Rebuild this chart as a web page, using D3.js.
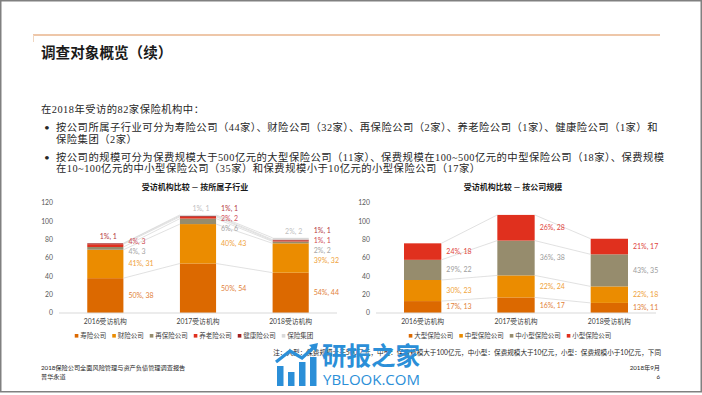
<!DOCTYPE html>
<html>
<head>
<meta charset="utf-8">
<script src="https://cdn.jsdelivr.net/npm/d3@7"></script>
<style>
body { margin: 0; background: #fff; }
svg text { font-family: "Lato", "Noto Sans CJK SC", sans-serif; }
.body-text { font-family: "Liberation Serif", "Noto Sans CJK SC", serif !important; }
</style>
</head>
<body>
<svg id="slide" width="702" height="395"></svg>
<script>
////////////////////////////// Data //////////////////////////////
var years = ["2016受访机构", "2017受访机构", "2018受访机构"];
var totals = [76, 107, 82]; // surveyed institutions per year

var industryNames = ["寿险公司", "财险公司", "再保险公司", "养老险公司", "健康险公司", "保险集团"];
var lifeIns = [38, 54, 44];
var propIns = [31, 43, 32];
var reIns = [3, 6, 2];
var pensionIns = [3, 2, 1];
var healthIns = [1, 1, 1];
var groupIns = [0, 1, 2];

var sizeNames = ["大型保险公司", "中型保险公司", "中小型保险公司", "小型保险公司"];
var largeCo = [13, 17, 11];
var midCo = [23, 24, 18];
var smallMidCo = [22, 38, 35];
var smallCo = [18, 28, 17];

var yTicks = [0, 20, 40, 60, 80, 100, 120];

////////////////////////////// Styles //////////////////////////////
var industryColors = ["#DC6900", "#EB8C00", "#968C6D", "#E0301E", "#A32020", "#D9D9D9"];
var industryLabelColors = ["#E2823A", "#EFA23A", "#A6A6A6", "#CF4B55", "#B5393F", "#BFBFBF"];
var sizeColors = ["#DC6900", "#EB8C00", "#968C6D", "#E0301E"];
var sizeLabelColors = ["#E2823A", "#EFA23A", "#9C9C9C", "#E0453C"];

var svg = d3.select("#slide");

// slide frame
svg.append("rect")
    .attr("x", 0.75).attr("y", 0.75)
    .attr("width", 700.5).attr("height", 391)
    .attr("fill", "none")
    .attr("stroke", "#808080")
    .attr("stroke-width", 1.5);

// header rule
svg.append("line")
    .attr("x1", 33).attr("x2", 660).attr("y1", 35).attr("y2", 35)
    .attr("stroke", "#E8B58C").attr("stroke-width", 1.6);
svg.append("line")
    .attr("x1", 33.5).attr("x2", 33.5).attr("y1", 35).attr("y2", 42)
    .attr("stroke", "#F0D6C0").attr("stroke-width", 1);

svg.append("text")
    .attr("x", 41).attr("y", 53)
    .attr("dy", ".35em")
    .style("font-size", "14.6px")
    .style("font-weight", "bold")
    .style("fill", "#1a1a1a")
    .text("调查对象概览（续）");

// body text
var bodyLines = [
    {x: 41, y: 109, t: "在2018年受访的82家保险机构中："},
    {x: 56, y: 127.5, t: "按公司所属子行业可分为寿险公司（44家）、财险公司（32家）、再保险公司（2家）、养老险公司（1家）、健康险公司（1家）和", bullet: true},
    {x: 56, y: 139, t: "保险集团（2家）"},
    {x: 56, y: 157, t: "按公司的规模可分为保费规模大于500亿元的大型保险公司（11家）、保费规模在100~500亿元的中型保险公司（18家）、保费规模", bullet: true},
    {x: 56, y: 168.5, t: "在10~100亿元的中小型保险公司（35家）和保费规模小于10亿元的小型保险公司（17家）"}
];
bodyLines.forEach(function (l) {
    if (l.bullet) {
        svg.append("text")
            .attr("x", 44).attr("y", l.y).attr("dy", ".35em")
            .style("font-size", "10px").style("fill", "#262626")
            .text("•");
    }
    svg.append("text")
        .attr("class", "body-text")
        .attr("x", l.x).attr("y", l.y).attr("dy", ".35em")
        .style("font-size", "10.3px")
        .style("letter-spacing", "0.5px")
        .style("fill", "#262626")
        .text(l.t);
});

////////////////////////////// Stacked chart //////////////////////////////
function stackedChart(opt) {
    var g = svg.append("g");

    var rows = years.map(function (yr, i) {
        var r = {year: yr, total: totals[i]};
        opt.keys.forEach(function (k, j) { r[k] = opt.series[j][i]; });
        return r;
    });

    var stacked = d3.stack().keys(opt.keys)(rows);

    var x = d3.scaleBand()
        .domain(years)
        .range(opt.xRange)
        .paddingInner(opt.pad)
        .paddingOuter(opt.pad / 2);

    var y = d3.scaleLinear().domain([0, 120]).range([313, 203]);
    var bw = x.bandwidth();

    // title
    g.append("text")
        .attr("x", (opt.xRange[0] + opt.xRange[1]) / 2 - 3)
        .attr("y", 187).attr("dy", ".35em")
        .attr("text-anchor", "middle")
        .style("font-size", "8px")
        .style("font-weight", "bold")
        .style("fill", "#1a1a1a")
        .text(opt.title);

    // y tick labels
    g.selectAll(".ytick")
        .data(yTicks)
        .enter().append("text")
        .attr("x", opt.xRange[0] - 6)
        .attr("y", function (d) { return y(d); })
        .attr("dy", ".35em")
        .attr("text-anchor", "end")
        .style("font-size", "6.8px")
        .style("fill", "#595959")
        .text(function (d) { return d; });

    // bars
    var layer = g.selectAll(".layer")
        .data(stacked)
        .enter().append("g")
        .style("fill", function (d, i) { return opt.colors[i]; });

    layer.selectAll("rect")
        .data(function (d) { return d; })
        .enter().append("rect")
        .attr("x", function (d) { return x(d.data.year); })
        .attr("y", function (d) { return y(d[1]); })
        .attr("width", bw)
        .attr("height", function (d) { return y(d[0]) - y(d[1]); });

    // series lines between bars
    stacked.forEach(function (s) {
        for (var i = 0; i < s.length - 1; i++) {
            g.append("line")
                .attr("x1", x(years[i]) + bw)
                .attr("y1", y(s[i][1]))
                .attr("x2", x(years[i + 1]))
                .attr("y2", y(s[i + 1][1]))
                .attr("stroke", "#D9D9D9")
                .attr("stroke-width", 0.8);
        }
    });

    // axis line
    g.append("line")
        .attr("x1", opt.xRange[0]).attr("x2", opt.xRange[1])
        .attr("y1", y(0)).attr("y2", y(0))
        .attr("stroke", "#D9D9D9").attr("stroke-width", 1);

    // category labels
    g.selectAll(".xlab")
        .data(years)
        .enter().append("text")
        .attr("x", function (d) { return x(d) + bw / 2; })
        .attr("y", 322).attr("dy", ".35em")
        .attr("text-anchor", "middle")
        .style("font-size", "6.8px")
        .style("fill", "#404040")
        .text(function (d) { return d; });

    // data labels
    years.forEach(function (yr, i) {
        var items = [];
        stacked.forEach(function (s, j) {
            var v = s[i][1] - s[i][0];
            if (v > 0) items.push({j: j, v: v, top: s[i][1], mid: y((s[i][0] + s[i][1]) / 2)});
        });
        var topItem = opt.topAbove ? items.pop() : null;

        // relax overlapping labels
        items.sort(function (a, b) { return a.mid - b.mid; });
        items.forEach(function (d) { d.ly = d.mid; });
        for (var it = 0; it < 60; it++) {
            for (var k = 0; k < items.length - 1; k++) {
                var gap = items[k + 1].ly - items[k].ly;
                if (gap < opt.minGap) {
                    var shift = (opt.minGap - gap) / 2;
                    items[k].ly -= shift;
                    items[k + 1].ly += shift;
                }
            }
        }

        function labelText(d) {
            return Math.round(d.v / totals[i] * 100) + "%, " + d.v;
        }

        items.forEach(function (d) {
            g.append("text")
                .attr("x", x(yr) + bw + 5)
                .attr("y", d.ly).attr("dy", ".35em")
                .style("font-size", "7px")
                .style("fill", opt.labelColors[d.j])
                .text(labelText(d));
        });

        if (topItem) {
            g.append("text")
                .attr("x", x(yr) + bw / 2 + 3)
                .attr("y", y(topItem.top) - 6.5).attr("dy", ".35em")
                .attr("text-anchor", "middle")
                .style("font-size", "7px")
                .style("fill", opt.labelColors[topItem.j])
                .text(labelText(topItem));
        }
    });

    // legend
    var leg = g.append("g");
    var cx = 0;
    opt.keys.forEach(function (k, j) {
        var item = leg.append("g").attr("transform", "translate(" + cx + ",0)");
        item.append("rect")
            .attr("x", 0).attr("y", -2)
            .attr("width", 3.6).attr("height", 3.6)
            .style("fill", opt.colors[j]);
        var t = item.append("text")
            .attr("x", 5.5).attr("y", 0).attr("dy", ".35em")
            .style("font-size", "6.5px")
            .style("fill", "#404040")
            .text(k);
        cx += 5.5 + t.node().getComputedTextLength() + opt.legendGap;
    });
    var legW = cx - opt.legendGap;
    leg.attr("transform", "translate(" + (opt.legendCenter - legW / 2) + ",336)");
}

stackedChart({
    keys: industryNames,
    series: [lifeIns, propIns, reIns, pensionIns, healthIns, groupIns],
    colors: industryColors,
    labelColors: industryLabelColors,
    xRange: [59, 337],
    pad: 0.61,
    title: "受访机构比较 — 按所属子行业",
    topAbove: true,
    minGap: 10,
    legendCenter: 194,
    legendGap: 6
});

stackedChart({
    keys: sizeNames,
    series: [largeCo, midCo, smallMidCo, smallCo],
    colors: sizeColors,
    labelColors: sizeLabelColors,
    xRange: [376, 656],
    pad: 0.6,
    title: "受访机构比较 — 按公司规模",
    topAbove: false,
    minGap: 8.5,
    legendCenter: 510,
    legendGap: 6
});

////////////////////////////// Footer //////////////////////////////
svg.append("text")
    .attr("x", 661).attr("y", 352.7).attr("dy", ".35em")
    .attr("text-anchor", "end")
    .style("font-size", "6.6px").style("fill", "#262626")
    .text("注：大型：保费规模大于500亿元，中型：保费规模大于100亿元，中小型：保费规模大于10亿元，小型：保费规模小于10亿元，下同");

[["2018保险公司全面风险管理与资产负债管理调查报告", 367.5], ["普华永道", 376.7]].forEach(function (d) {
    svg.append("text")
        .attr("x", 41).attr("y", d[1]).attr("dy", ".35em")
        .style("font-size", "6.2px").style("fill", "#262626")
        .text(d[0]);
});
[["2018年9月", 367.5], ["6", 376.7]].forEach(function (d) {
    svg.append("text")
        .attr("x", 660).attr("y", d[1]).attr("dy", ".35em")
        .attr("text-anchor", "end")
        .style("font-size", "6.2px").style("fill", "#262626")
        .text(d[0]);
});

// watermark
var wm = svg.append("g").style("fill", "#2B8FD8");
[[277, 366, 6.5], [288, 372, 6.5], [299, 362, 6.5], [310, 357, 6.5]].forEach(function (b) {
    wm.append("rect").attr("x", b[0]).attr("y", b[1]).attr("width", b[2]).attr("height", 386 - b[1]);
});
wm.append("path")
    .attr("d", "M276,362 L290,351 L302,358 L313,348")
    .attr("fill", "none")
    .attr("stroke", "#2B8FD8")
    .attr("stroke-width", 3.2);
wm.append("path")
    .attr("d", "M309,345 L318,343 L316,352 Z");
wm.append("text")
    .attr("x", 322).attr("y", 356).attr("dy", ".35em")
    .style("font-size", "24.5px")
    .style("font-weight", "bold")
    .text("研报之家");
wm.append("text")
    .attr("x", 323).attr("y", 380).attr("dy", ".35em")
    .style("font-family", "'Open Sans', sans-serif")
    .style("font-size", "15px")
    .text("YBLOOK.COM");
</script>
</body>
</html>
